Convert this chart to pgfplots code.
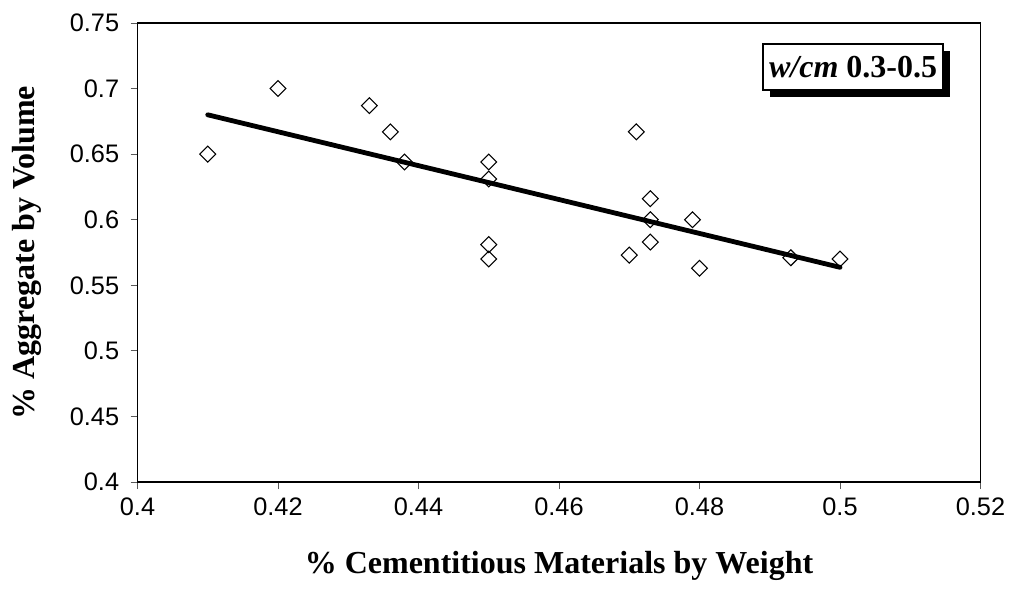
\documentclass[border=0pt]{standalone}
\usepackage{fontspec}
\setmainfont{Liberation Serif}
\newfontfamily\ticksf{Liberation Sans}
\usepackage{pgfplots}
\pgfplotsset{compat=1.18}
\usetikzlibrary{shadows}
\begin{document}
\begin{tikzpicture}
\begin{axis}[
  scale only axis,
  width=632.25pt, height=344.25pt,
  at={(0pt,0pt)}, anchor=south west,
  xmin=0.4, xmax=0.52, ymin=0.4, ymax=0.75,
  xtick={0.4,0.42,0.44,0.46,0.48,0.5,0.52},
  ytick={0.4,0.45,0.5,0.55,0.6,0.65,0.7,0.75},
  xticklabels={0.4,0.42,0.44,0.46,0.48,0.5,0.52},
  yticklabels={0.4,0.45,0.5,0.55,0.6,0.65,0.7,0.75},
  xtick pos=left, ytick pos=left,
  tick align=outside,
  major tick length=5.25pt,
  tick style={gray!70!black, line width=0.6pt},
  axis line style={line width=1.3pt},
  /pgf/number format/assume math mode=true,
  ticklabel style={font=\fontsize{19}{22}\selectfont\ticksf},
  yticklabel style={xshift=-5pt},
  xticklabel style={yshift=-3pt},
  xlabel={\% Cementitious Materials by Weight},
  ylabel={\% Aggregate by Volume},
  label style={font=\fontsize{24}{28}\selectfont\bfseries},
  xlabel style={at={(axis description cs:0.5,-0.183)}, anchor=center},
  ylabel style={at={(axis description cs:-0.1311,0.5)}, anchor=center},
]
\addplot[only marks, mark=square, mark size=4.2pt,
  mark options={rotate=45, line width=0.8pt, fill=white, draw=black}]
  coordinates {
  (0.41,0.65) (0.42,0.70) (0.433,0.687) (0.436,0.667) (0.438,0.644)
  (0.45,0.644) (0.45,0.631) (0.45,0.581) (0.45,0.570)
  (0.471,0.667) (0.473,0.616) (0.473,0.600) (0.473,0.583)
  (0.47,0.573) (0.479,0.600) (0.48,0.563) (0.493,0.571) (0.50,0.570)
  };
\addplot[black, line width=3.6pt, line cap=round] coordinates {(0.41,0.680) (0.50,0.5637)};
\node[draw=black, line width=1.1pt, fill=white, minimum width=135pt, minimum height=34.5pt,
  inner sep=0pt,
  drop shadow={shadow xshift=5.25pt, shadow yshift=-5.25pt, fill=black, opacity=1},
  font=\fontsize{24}{28}\selectfont\bfseries]
  at (rel axis cs:0.8488,0.904) {\textit{w/cm} 0.3-0.5};
\end{axis}
\pgfresetboundingbox
\path[use as bounding box] (-103.125pt,-81pt) rectangle (656.625pt,361.5pt);
\end{tikzpicture}
\end{document}
